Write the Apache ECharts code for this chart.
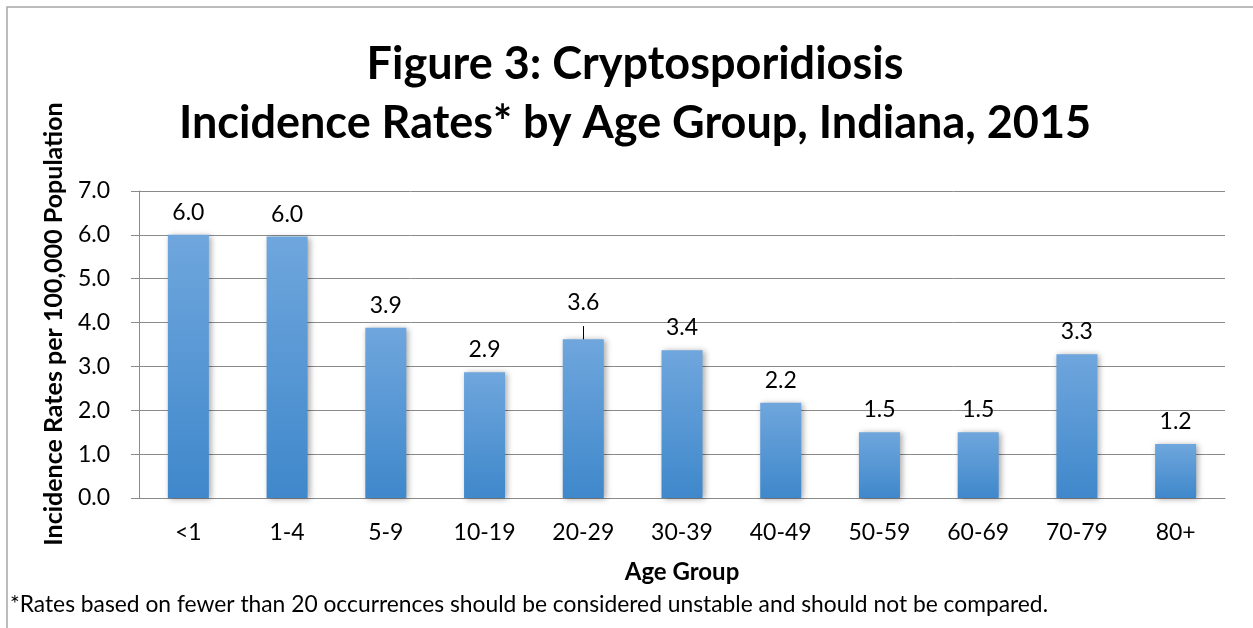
<!DOCTYPE html>
<html>
<head>
<meta charset="utf-8">
<script src="https://cdn.jsdelivr.net/npm/echarts@6/dist/echarts.min.js"></script>
<style>
  html, body { margin: 0; padding: 0; background: #fff; }
  #chart { width: 1253px; height: 628px; }
</style>
</head>
<body>
<div id="chart"></div>
<script>
// data
var ageGroups = ['<1', '1-4', '5-9', '10-19', '20-29', '30-39', '40-49', '50-59', '60-69', '70-79', '80+'];
var rates = [6.0, 5.96, 3.88, 2.87, 3.62, 3.37, 2.17, 1.5, 1.5, 3.28, 1.23];
var yTicks = { min: 0, max: 7, interval: 1 };
// the one label that was dragged up with a leader line
var movedLabel = '20-29';

var titleLines = ['Figure 3: Cryptosporidiosis', 'Incidence Rates* by Age Group, Indiana, 2015'];
var yName = 'Incidence Rates per 100,000 Population';
var xName = 'Age Group';
var footnote = '*Rates based on fewer than 20 occurrences should be considered unstable and should not be compared.';

var font = 'Lato, "Open Sans", sans-serif';
var gridColor = '#8a8a8a';

var barData = rates.map(function (v, i) {
    if (ageGroups[i] === movedLabel) {
        return { value: v, label: { distance: 25 } };
    }
    return v;
});
var movedIdx = ageGroups.indexOf(movedLabel);

var chart = echarts.init(document.getElementById('chart'));
var option = {
    animation: false,
    backgroundColor: '#fff',
    title: {
        text: titleLines.join('\n'),
        left: 630,
        top: 30,
        textAlign: 'center',
        textStyle: { fontFamily: font, fontSize: 45, fontWeight: 'bold', color: '#000', lineHeight: 59 }
    },
    grid: { left: 139, right: 28, top: 191, bottom: 130 },
    xAxis: {
        type: 'category',
        data: ageGroups,
        name: xName,
        nameLocation: 'middle',
        nameGap: 62,
        nameTextStyle: { fontFamily: font, fontSize: 24, fontWeight: 'bold', color: '#000' },
        axisLine: { lineStyle: { color: gridColor, width: 1 } },
        axisTick: { length: 8, lineStyle: { color: gridColor } },
        axisLabel: { fontFamily: font, fontSize: 23, color: '#000', margin: 23 }
    },
    yAxis: {
        type: 'value',
        min: yTicks.min,
        max: yTicks.max,
        interval: yTicks.interval,
        axisLine: { show: true, lineStyle: { color: gridColor, width: 1 } },
        axisTick: { show: true, length: 8, lineStyle: { color: gridColor } },
        axisLabel: {
            fontFamily: font, fontSize: 23, color: '#000', margin: 29,
            formatter: function (v) { return v.toFixed(1); }
        },
        splitLine: { lineStyle: { color: gridColor, width: 1 } }
    },
    graphic: [
        {
            type: 'rect',
            shape: { x: 7, y: 7, width: 1300, height: 700 },
            style: { fill: 'none', stroke: '#a6a6a6', lineWidth: 1.5 },
            silent: true
        },
        {
            type: 'text',
            x: 54, y: 324,
            rotation: Math.PI / 2,
            style: {
                text: yName, fontFamily: font, fontSize: 25, fontWeight: 'bold', fill: '#000',
                align: 'center', verticalAlign: 'middle'
            }
        },
        {
            type: 'text',
            x: 10, y: 605,
            style: {
                text: footnote, fontFamily: font, fontSize: 22.8, fill: '#000',
                align: 'left', verticalAlign: 'middle'
            }
        }
    ],
    series: [{
        type: 'bar',
        data: barData,
        barWidth: 41,
        itemStyle: {
            color: new echarts.graphic.LinearGradient(0, 0, 0, 1, [
                { offset: 0, color: '#6fa6dd' },
                { offset: 1, color: '#3f88cb' }
            ]),
            shadowColor: 'rgba(0,0,0,0.35)',
            shadowBlur: 6,
            shadowOffsetX: 2,
            shadowOffsetY: 1
        },
        label: {
            show: true,
            position: 'top',
            distance: 11,
            fontFamily: font,
            fontSize: 23,
            color: '#000',
            formatter: function (p) { return p.value.toFixed(1); }
        },
        markLine: {
            silent: true,
            symbol: 'none',
            label: { show: false },
            lineStyle: { color: '#000', width: 1, type: 'solid' },
            data: [[{ xAxis: movedLabel, yAxis: rates[movedIdx] }, { xAxis: movedLabel, yAxis: rates[movedIdx] + 0.3 }]]
        }
    }]
};
chart.setOption(option);
</script>
</body>
</html>
